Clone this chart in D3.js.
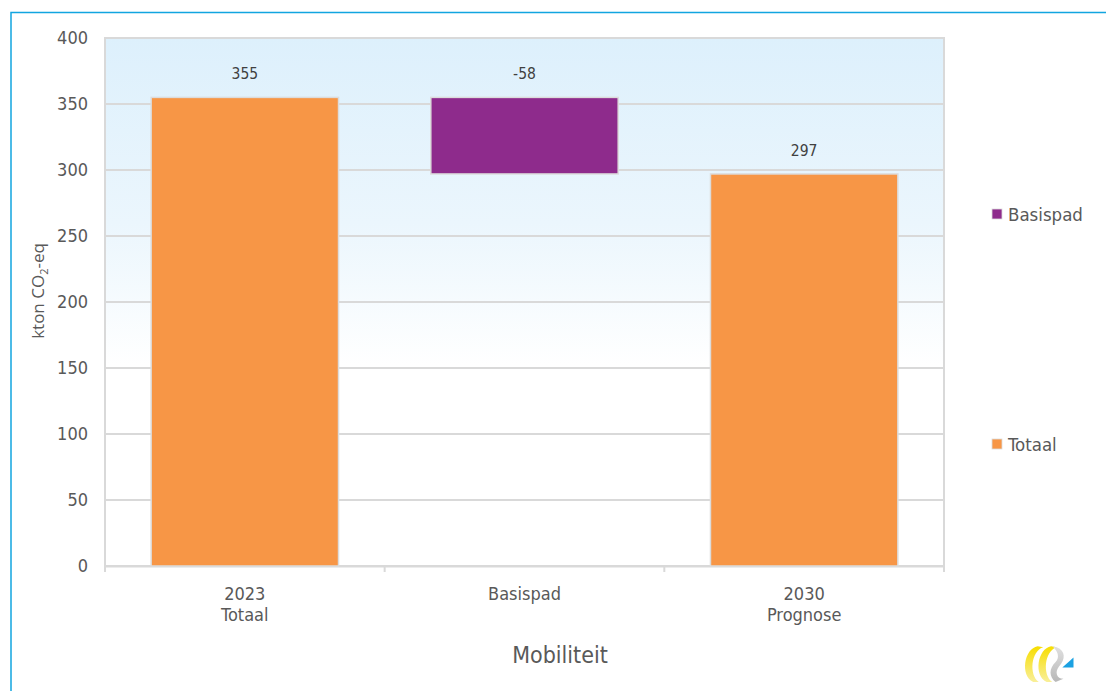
<!DOCTYPE html>
<html>
<head>
<meta charset="utf-8">
<script src="https://cdn.jsdelivr.net/npm/d3@7/dist/d3.min.js"></script>
<style>
  html, body { margin: 0; padding: 0; background: #fff; }
  svg { display: block; }
  text { font-family: "DejaVu Sans Condensed", "DejaVu Sans", sans-serif; fill: #595959; }
</style>
</head>
<body>
<script>
// Waterfall of CO2 emissions for mobility: 2023 total, base path change, 2030 forecast
const categories = [["2023", "Totaal"], ["Basispad"], ["2030", "Prognose"]];
const stepTypes = ["total", "delta", "total"];
const stepValues = [355, -58, 297];
const legendItems = ["Basispad", "Totaal"];
const yTicks = [0, 50, 100, 150, 200, 250, 300, 350, 400];

const colors = { Totaal: "#f79646", Basispad: "#8e2b8c" };

const W = 1106, H = 691;
const plot = { left: 105, top: 38, right: 944, bottom: 566 };
const condensed = "'DejaVu Sans Condensed', 'DejaVu Sans', sans-serif";

const svg = d3.select("body").append("svg").attr("width", W).attr("height", H);

// outer frame
svg.append("path")
  .attr("d", `M${W},12.5 H11 V${H}`)
  .attr("fill", "none").attr("stroke", "#12a5e0").attr("stroke-width", 1.5);

const x = d3.scaleBand().domain(d3.range(categories.length))
  .range([plot.left, plot.right]).paddingInner(0.33).paddingOuter(0.165);
const xOuter = d3.scaleBand().domain(d3.range(categories.length))
  .range([plot.left, plot.right]).padding(0);
const y = d3.scaleLinear().domain([0, 400]).range([plot.bottom, plot.top]);

// plot background gradient
const defs = svg.append("defs");
const grad = defs.append("linearGradient").attr("id", "bg")
  .attr("x1", 0).attr("y1", 0).attr("x2", 0).attr("y2", 1);
grad.append("stop").attr("offset", "0%").attr("stop-color", "#ddf0fc");
grad.append("stop").attr("offset", "35%").attr("stop-color", "#ebf6fd");
grad.append("stop").attr("offset", "62%").attr("stop-color", "#ffffff");
grad.append("stop").attr("offset", "100%").attr("stop-color", "#ffffff");

svg.append("rect")
  .attr("x", plot.left).attr("y", plot.top)
  .attr("width", plot.right - plot.left).attr("height", plot.bottom - plot.top)
  .attr("fill", "url(#bg)");

// gridlines
svg.append("g").selectAll("line").data(yTicks.filter(d => d > 0))
  .join("line")
  .attr("x1", plot.left).attr("x2", plot.right)
  .attr("y1", d => y(d)).attr("y2", d => y(d))
  .attr("stroke", "#d9d9d9").attr("stroke-width", 2);

// plot area border
svg.append("rect")
  .attr("x", plot.left).attr("y", plot.top)
  .attr("width", plot.right - plot.left).attr("height", plot.bottom - plot.top)
  .attr("fill", "none").attr("stroke", "#d9d9d9").attr("stroke-width", 2);

// y axis labels
const yAxis = d3.axisLeft(y).tickValues(yTicks).tickSize(0).tickPadding(17);
const gy = svg.append("g").attr("transform", `translate(${plot.left},0)`).call(yAxis);
gy.select(".domain").remove();
gy.selectAll("text").style("font-size", "18px").style("fill", "#595959")
  .style("font-family", condensed);

// x axis: baseline + category boundary ticks
const xAxis = d3.axisBottom(xOuter).tickSize(0).tickFormat("");
const gx = svg.append("g").attr("transform", `translate(0,${plot.bottom})`).call(xAxis);
gx.select(".domain").attr("stroke", "#d9d9d9").attr("stroke-width", 2);
gx.selectAll(".tick").remove();
const bounds = d3.range(categories.length + 1).map(i =>
  i < categories.length ? xOuter(i) : xOuter(i - 1) + xOuter.bandwidth());
gx.selectAll("line.bound").data(bounds).join("line").attr("class", "bound")
  .attr("x1", d => d).attr("x2", d => d).attr("y1", 0).attr("y2", 6)
  .attr("stroke", "#d9d9d9").attr("stroke-width", 2);

// category labels
const catG = svg.append("g");
categories.forEach((lines, i) => {
  const cx = x(i) + x.bandwidth() / 2;
  const t = catG.append("text")
    .attr("x", cx).attr("y", plot.bottom + 34)
    .attr("text-anchor", "middle")
    .style("font-size", "18px")
    .style("font-family", condensed);
  lines.forEach((ln, j) => {
    t.append("tspan").attr("x", cx).attr("dy", j === 0 ? 0 : 21).text(ln);
  });
});

// build waterfall segments
let running = 0;
const bars = stepValues.map((v, i) => {
  let lo, hi, series;
  if (stepTypes[i] === "total") { lo = 0; hi = v; running = v; series = "Totaal"; }
  else { const next = running + v; lo = Math.min(running, next); hi = Math.max(running, next); running = next; series = "Basispad"; }
  return { i, v, lo, hi, series };
});

svg.append("g").selectAll("rect").data(bars).join("rect")
  .attr("x", d => x(d.i)).attr("width", x.bandwidth())
  .attr("y", d => y(d.hi)).attr("height", d => y(d.lo) - y(d.hi))
  .attr("fill", d => colors[d.series])
  .attr("stroke", "#dcdcdc").attr("stroke-width", 1.5);

// value labels
svg.append("g").selectAll("text").data(bars).join("text")
  .attr("x", d => x(d.i) + x.bandwidth() / 2)
  .attr("y", d => y(d.hi) - 18)
  .attr("text-anchor", "middle")
  .style("font-size", "15.5px")
  .style("font-family", condensed)
  .style("fill", "#404040")
  .text(d => d.v);

// axis titles
svg.append("text")
  .attr("transform", `translate(44,291) rotate(-90)`)
  .attr("text-anchor", "middle")
  .style("font-size", "17px")
  .style("font-family", "'Open Sans', sans-serif")
  .html('kton CO<tspan dy="4" style="font-size:11px">2</tspan><tspan dy="-4">-eq</tspan>');

svg.append("text")
  .attr("x", 560).attr("y", 663)
  .attr("text-anchor", "middle")
  .style("font-size", "23px")
  .style("font-family", condensed)
  .text("Mobiliteit");

// legend
const legendY = { Basispad: 214, Totaal: 444 };
const lg = svg.append("g");
legendItems.forEach(name => {
  lg.append("rect").attr("x", 992).attr("y", legendY[name] - 5)
    .attr("width", 10).attr("height", 10).attr("fill", colors[name])
    .attr("stroke", "#dcdcdc").attr("stroke-width", 0.8);
  lg.append("text").attr("x", 1008).attr("y", legendY[name])
    .attr("dy", "0.36em")
    .style("font-size", "18.5px")
    .style("font-family", condensed)
    .text(name);
});

// small emblem, bottom right
const logo = svg.append("g").attr("transform", "translate(1022,644) scale(1.12)");
const ly = defs.append("linearGradient").attr("id", "lgY").attr("x1", 0).attr("y1", 0).attr("x2", 0).attr("y2", 1);
ly.append("stop").attr("offset", "0%").attr("stop-color", "#f7dd00");
ly.append("stop").attr("offset", "100%").attr("stop-color", "#f9ef9a");
const lgG = defs.append("linearGradient").attr("id", "lgG").attr("x1", 0).attr("y1", 0).attr("x2", 0).attr("y2", 1);
lgG.append("stop").attr("offset", "0%").attr("stop-color", "#e0e0e0");
lgG.append("stop").attr("offset", "100%").attr("stop-color", "#b8b8b8");
logo.append("path").attr("d", "M14,2 C2,4 -2,28 10,34 L15,34 C6,28 8,6 19,3 Z").attr("fill", "url(#lgY)");
logo.append("path").attr("d", "M26,2 C14,4 10,28 22,34 L27,34 C18,28 20,6 31,3 Z").attr("fill", "url(#lgY)");
logo.append("path").attr("d", "M31,3 C39,6 39,14 33,20 C29,25 31,31 37,31 L30,34 C24,29 24,22 30,16 C34,12 32,6 27,2 Z").attr("fill", "url(#lgG)");
logo.append("path").attr("d", "M36,21 L46,12 L46,21 Z").attr("fill", "#1ba1e2");
</script>
</body>
</html>
